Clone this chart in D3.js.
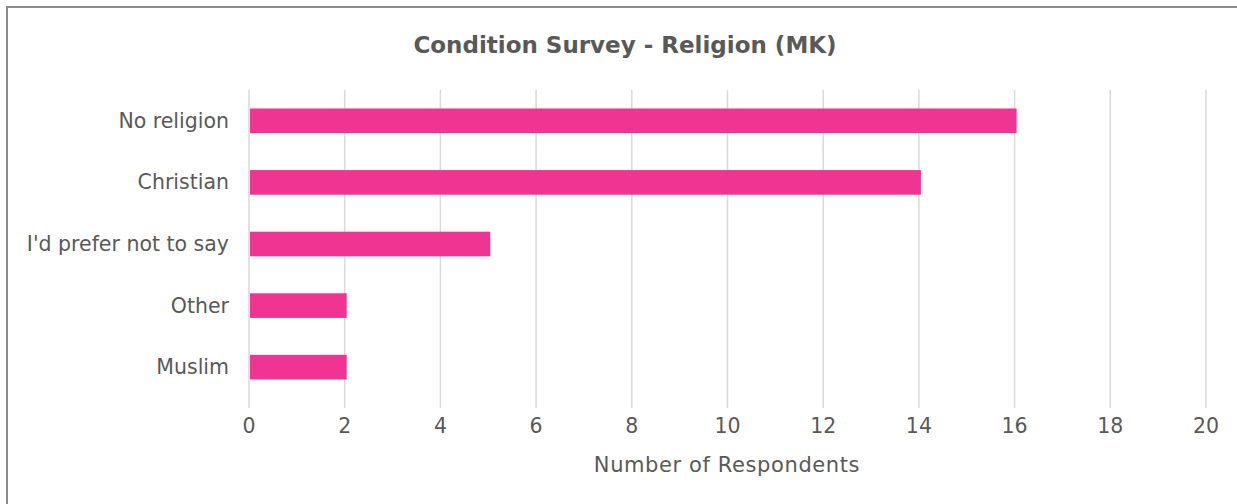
<!DOCTYPE html>
<html>
<head>
<meta charset="utf-8">
<script src="https://cdn.jsdelivr.net/npm/d3@7"></script>
<style>
  body { margin: 0; background: #fff; }
  svg { display: block; }
  text { font-family: "DejaVu Sans", sans-serif; fill: #595959; }
</style>
</head>
<body>
<svg id="chart" width="1237" height="504"></svg>
<script>
const categories = ["No religion", "Christian", "I'd prefer not to say", "Other", "Muslim"];
const values = [16, 14, 5, 2, 2];
const xTicks = [0, 2, 4, 6, 8, 10, 12, 14, 16, 18, 20];
const chartTitle = "Condition Survey - Religion (MK)";
const xTitle = "Number of Respondents";

const width = 1237, height = 504;
const margin = {top: 90, right: 31, bottom: 106, left: 249};

const svg = d3.select("#chart");

// outer frame (left and top edges visible)
svg.append("rect")
  .attr("x", 7).attr("y", 7)
  .attr("width", width).attr("height", height)
  .attr("fill", "none")
  .attr("stroke", "#8c8c8c")
  .attr("stroke-width", 2);

const x = d3.scaleLinear()
  .domain([0, 20])
  .range([margin.left, width - margin.right]);

const y = d3.scaleBand()
  .domain(categories)
  .range([margin.top, height - margin.bottom])
  .paddingInner(0.6)
  .paddingOuter(0.3);

// gridlines
svg.append("g")
  .selectAll("line")
  .data(xTicks)
  .enter().append("line")
  .attr("x1", d => x(d)).attr("x2", d => x(d))
  .attr("y1", margin.top).attr("y2", height - margin.bottom + 10)
  .attr("stroke", "#d9d9d9")
  .attr("stroke-width", 1.5);

// bars
svg.append("g")
  .selectAll("rect")
  .data(categories)
  .enter().append("rect")
  .attr("x", x(0) + 1)
  .attr("y", d => y(d))
  .attr("width", (d, i) => x(values[i]) - x(0) + 1)
  .attr("height", y.bandwidth())
  .attr("fill", "#ef3591");

// x tick labels
svg.append("g")
  .selectAll("text")
  .data(xTicks)
  .enter().append("text")
  .attr("x", d => x(d))
  .attr("y", 433)
  .attr("text-anchor", "middle")
  .style("font-size", "20.5px")
  .text(d => d);

// category labels
svg.append("g")
  .selectAll("text")
  .data(categories)
  .enter().append("text")
  .attr("x", 229)
  .attr("y", d => y(d) + y.bandwidth() / 2 + 7)
  .attr("text-anchor", "end")
  .style("font-size", "20.5px")
  .text(d => d);

// title
svg.append("text")
  .attr("x", 625)
  .attr("y", 53)
  .attr("text-anchor", "middle")
  .style("font-size", "23px")
  .style("font-weight", "bold")
  .text(chartTitle);

// axis title
svg.append("text")
  .attr("x", 727)
  .attr("y", 472)
  .attr("text-anchor", "middle")
  .style("font-size", "21px")
  .style("letter-spacing", "0.6px")
  .text(xTitle);
</script>
</body>
</html>
